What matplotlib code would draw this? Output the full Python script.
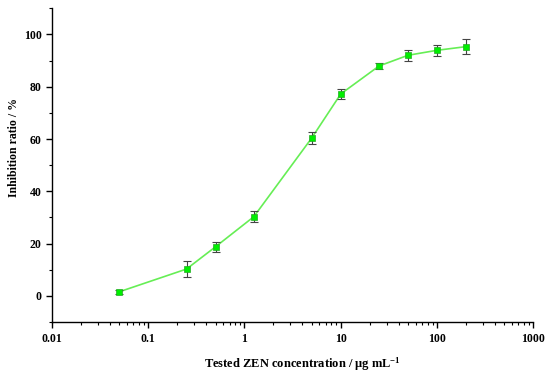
import matplotlib
matplotlib.use("Agg")
import matplotlib.pyplot as plt
import numpy as np

concentration = [0.05, 0.25, 0.5, 1.25, 5, 10, 25, 50, 100, 200]
inhibition = [1.6, 10.3, 18.8, 30.3, 60.4, 77.2, 87.9, 92.0, 93.9, 95.3]
errors = [0.8, 3.0, 1.9, 2.1, 2.2, 1.8, 1.3, 2.2, 2.0, 2.9]
x_ticks = [0.01, 0.1, 1, 10, 100, 1000]
x_tick_labels = ["0.01", "0.1", "1", "10", "100", "1000"]
y_ticks = [0, 20, 40, 60, 80, 100]

plt.rcParams['font.family'] = ['Liberation Serif', 'DejaVu Serif']
plt.rcParams['font.weight'] = 'bold'
plt.rcParams['mathtext.fontset'] = 'custom'
plt.rcParams['mathtext.rm'] = 'Liberation Serif:bold'
plt.rcParams['mathtext.bf'] = 'Liberation Serif:bold'
plt.rcParams['mathtext.it'] = 'Liberation Serif:bold'
plt.rcParams['mathtext.default'] = 'rm'

fig = plt.figure(figsize=(5.5, 3.72), dpi=100)
ax = fig.add_axes([0.0945, 0.134, 0.875, 0.844])

ax.plot(concentration, inhibition, color='#66ee55', lw=1.2, zorder=2)
ax.errorbar(concentration, inhibition, yerr=errors, fmt='none', ecolor='#444444',
            elinewidth=0.8, capsize=3, capthick=0.8, zorder=3)
ax.plot(concentration, inhibition, 's', color='#00ee00', markersize=4.5,
        markeredgecolor='#22aa22', markeredgewidth=0.5, zorder=4)

ax.set_xscale('log')
ax.set_xlim(0.01, 1000)
ax.set_ylim(-10, 110)
ax.set_xticks(x_ticks)
ax.set_xticklabels(x_tick_labels)
ax.set_yticks(y_ticks)
ax.yaxis.set_minor_locator(matplotlib.ticker.MultipleLocator(10))
ax.xaxis.set_minor_locator(matplotlib.ticker.LogLocator(base=10, subs=np.arange(2, 10)))
ax.xaxis.set_minor_formatter(matplotlib.ticker.NullFormatter())

for s in ['top', 'right']:
    ax.spines[s].set_visible(False)
for s in ['left', 'bottom']:
    ax.spines[s].set_linewidth(1.0)

ax.tick_params(which='major', direction='out', length=4, width=1, labelsize=8.5)
ax.tick_params(which='minor', direction='out', length=2.5, width=0.8)
for lbl in ax.get_xticklabels() + ax.get_yticklabels():
    lbl.set_fontweight('bold')

ax.set_xlabel('Tested ZEN concentration / μg mL$^{-1}$', fontsize=9, fontweight='bold')
ax.xaxis.set_label_coords(0.52, -0.105)
ax.set_ylabel('Inhibition ratio / %', fontsize=8.5, fontweight='bold')
ax.yaxis.set_label_coords(-0.066, 0.557)

fig.savefig('out.png', dpi=100)
